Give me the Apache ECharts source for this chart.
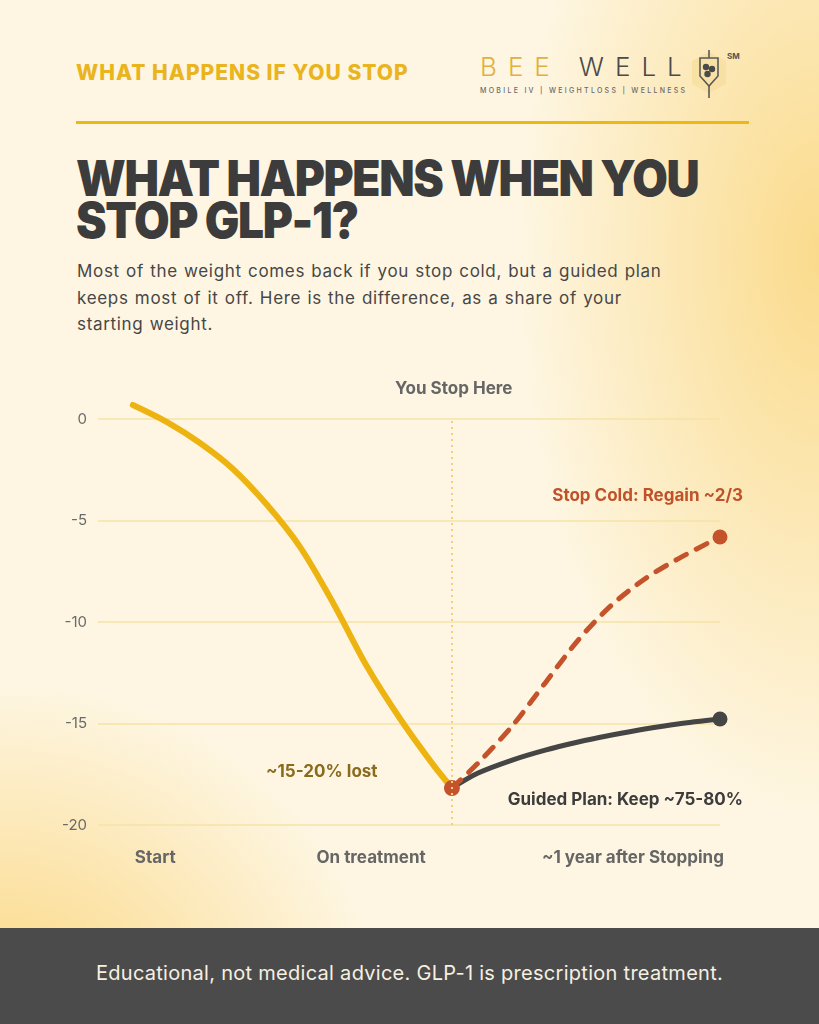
<!DOCTYPE html>
<html>
<head>
<meta charset="utf-8">
<script src="https://cdn.jsdelivr.net/npm/echarts@6/dist/echarts.min.js"></script>
<style>
  html, body { margin:0; padding:0; }
  body {
    width:819px; height:1024px; overflow:hidden; position:relative;
    font-family: Inter, "Open Sans", sans-serif;
    background:
      radial-gradient(ellipse 300px 560px at 100% 25%, rgba(250,214,125,0.85), rgba(250,214,125,0) 100%),
      radial-gradient(ellipse 380px 340px at 0% 100%, rgba(250,210,115,0.9), rgba(250,210,115,0) 100%),
      #FEF6E2;
  }
  .abs { position:absolute; white-space:nowrap; }
  #kicker { left:76px; top:60px; font-size:21px; font-weight:800; color:#E9B41E; letter-spacing:1px; }
  #logo { left:480px; top:51px; font-size:26px; font-weight:300; letter-spacing:11px; }
  #logo .g { color:#E0B13C; } #logo .d { color:#4a4a4a; margin-left:18px; }
  #logosub { left:480px; top:86px; font-size:7px; letter-spacing:2.3px; color:#6a6a6a; font-weight:500; }
  #sm { left:727px; top:51px; font-size:8px; font-weight:700; color:#555; }
  #rule { left:76px; top:121px; width:673px; height:3px; background:#EDB80F; }
  #title { left:76px; top:157px; font-size:50px; font-weight:900; color:#3c3c3c; line-height:42px; letter-spacing:-1.5px; white-space:nowrap; transform:scaleX(0.92); transform-origin:0 0; }
  #sub { left:77px; top:258px; font-size:17px; color:#474747; line-height:26.5px; letter-spacing:0.68px; word-spacing:0.8px; }
  #footer { left:0; top:928px; width:819px; height:96px; background:#4B4B4B; }
  #foottext { left:0; top:961px; width:819px; text-align:center; font-size:20px; color:#F6F0E2; letter-spacing:0.28px; }
  #chart { position:absolute; left:0; top:0; width:819px; height:1024px; }
</style>
</head>
<body>
<div class="abs" id="kicker">WHAT HAPPENS IF YOU STOP</div>
<div class="abs" id="logo"><span class="g">BEE</span><span class="d">WELL</span></div>
<div class="abs" id="logosub">MOBILE IV | WEIGHTLOSS | WELLNESS</div>
<svg class="abs" style="left:689px;top:46px" width="40" height="58" viewBox="0 0 40 58">
  <polygon points="20,6 37,15 37,38 20,47 3,38 3,15" fill="#F6DFA0" opacity="0.8"/>
  <path d="M11,12 L29,12 L29,30 L20,40 L11,30 Z" fill="none" stroke="#5a5a5a" stroke-width="1.6"/>
  <line x1="20" y1="4" x2="20" y2="12" stroke="#5a5a5a" stroke-width="1.6"/>
  <line x1="20" y1="40" x2="20" y2="52" stroke="#5a5a5a" stroke-width="1.6"/>
  <circle cx="17" cy="21" r="3.2" fill="#4a4a4a"/>
  <circle cx="23" cy="23" r="3.2" fill="#4a4a4a"/>
  <circle cx="18.5" cy="28" r="3.2" fill="#4a4a4a"/>
</svg>
<div class="abs" id="sm">SM</div>
<div class="abs" id="rule"></div>
<div class="abs" id="title">WHAT HAPPENS WHEN YOU<br>STOP GLP-1?</div>
<div class="abs" id="sub">Most of the weight comes back if you stop cold, but a guided plan<br>keeps most of it off. Here is the difference, as a share of your<br>starting weight.</div>
<div class="abs" id="footer"></div>
<div class="abs" id="foottext">Educational, not medical advice. GLP-1 is prescription treatment.</div>
<div id="chart"></div>
<script>
// ---- data (x in relative time units, y = % change of starting weight) ----
const xTickLabels = ['Start', 'On treatment', '~1 year after Stopping'];
const xTickPositions = [9.2, 43.9, 86];
const yTicks = [0, -5, -10, -15, -20];

const treatX = [5.6, 11.1, 16.4, 21.7, 27.2, 32.5, 37.8, 43.2, 48.6, 53.9, 56.9];
const treatY = [0.69, -0.15, -1.18, -2.46, -4.24, -6.31, -9.06, -12.17, -14.78, -17.04, -18.18];

const coldX = [56.9, 61.1, 66.6, 71.9, 77.2, 82.6, 87.9, 93.2, 100];
const stopColdY = [-18.18, -16.95, -15.12, -13.0, -10.89, -9.16, -7.88, -6.9, -5.81];

const guidedX = [56.9, 61.1, 66.6, 71.9, 77.2, 82.6, 87.9, 93.2, 100];
const guidedY = [-18.18, -17.44, -16.8, -16.31, -15.91, -15.57, -15.27, -15.02, -14.78];

const stopX = 56.9;
const annotations = {
  stop: 'You Stop Here',
  cold: 'Stop Cold: Regain ~2/3',
  lost: '~15-20% lost',
  guided: 'Guided Plan: Keep ~75-80%'
};

const zip = (xs, ys) => xs.map((x, i) => [x, ys[i]]);

const chart = echarts.init(document.getElementById('chart'), null, { renderer: 'canvas' });
const FONT = 'Inter, "Open Sans", sans-serif';

chart.setOption({
  backgroundColor: 'transparent',
  animation: false,
  grid: { left: 98, right: 99, top: 419, bottom: 199 },
  xAxis: {
    type: 'value', min: 0, max: 100,
    axisLine: { show: false }, axisTick: { show: false }, splitLine: { show: false },
    axisLabel: {
      customValues: xTickPositions,
      formatter: v => { const i = xTickPositions.indexOf(v); return i >= 0 ? xTickLabels[i] : ''; },
      margin: 24, fontSize: 17, fontWeight: 'bold', color: '#666', fontFamily: FONT
    }
  },
  yAxis: {
    type: 'value', min: -20, max: 0, interval: 5,
    axisLine: { show: false }, axisTick: { show: false },
    splitLine: { lineStyle: { color: '#F4E3A6', width: 1.5 } },
    axisLabel: { margin: 11, fontSize: 15, color: '#6a6a6a', fontFamily: FONT,
      formatter: v => yTicks.includes(v) ? String(v) : '' }
  },
  series: [
    {
      name: 'On treatment', type: 'line', data: zip(treatX, treatY), smooth: 0.3,
      clip: false, symbol: 'none',
      lineStyle: { color: '#EDB411', width: 6, cap: 'round' },
      markLine: {
        silent: true, symbol: 'none',
        lineStyle: { color: '#EFD27A', type: [2, 4], width: 2 },
        label: { show: false },
        data: [{ xAxis: stopX }]
      },
      z: 2
    },
    {
      name: 'Guided plan', type: 'line', data: zip(guidedX, guidedY), smooth: 0.3,
      clip: false, symbol: 'circle', showAllSymbol: true,
      symbolSize: (v, p) => p.dataIndex === guidedX.length - 1 ? 15 : 0,
      itemStyle: { color: '#454545' },
      lineStyle: { color: '#454545', width: 5, cap: 'round' },
      z: 3
    },
    {
      name: 'Stop cold', type: 'line', data: zip(coldX, stopColdY), smooth: 0.3,
      clip: false, symbol: 'circle', showAllSymbol: true,
      symbolSize: (v, p) => p.dataIndex === coldX.length - 1 ? 15 : (p.dataIndex === 0 ? 16 : 0),
      itemStyle: { color: '#C4532B' },
      lineStyle: { color: '#C4532B', width: 5, type: [12, 11], cap: 'round' },
      z: 4
    }
  ],
  graphic: [
    { type: 'text', left: 395, top: 380, style: { text: annotations.stop, font: 'bold 17px ' + FONT, fill: '#666' } },
    { type: 'text', right: 76, top: 487, style: { text: annotations.cold, font: 'bold 17px ' + FONT, fill: '#C0522A' } },
    { type: 'text', left: 266, top: 763, style: { text: annotations.lost, font: 'bold 17px ' + FONT, fill: '#8A6A1C' } },
    { type: 'text', right: 76, top: 791, style: { text: annotations.guided, font: 'bold 17px ' + FONT, fill: '#3c3c3c' } }
  ]
});
</script>
</body>
</html>
